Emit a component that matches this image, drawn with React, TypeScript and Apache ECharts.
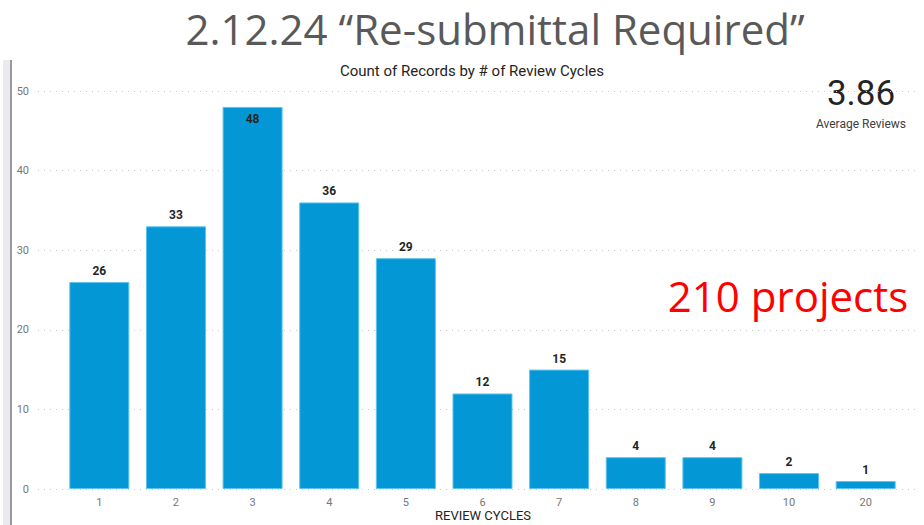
import React, { useEffect, useRef } from "react";
import * as echarts from "echarts";

const categories = ["1", "2", "3", "4", "5", "6", "7", "8", "9", "10", "20"];
const counts = [26, 33, 48, 36, 29, 12, 15, 4, 4, 2, 1];
const yTicks = { min: 0, max: 50, interval: 10 };
const pageTitle = "2.12.24 \u201cRe-submittal Required\u201d";
const chartTitle = "Count of Records by # of Review Cycles";
const xName = "REVIEW CYCLES";
const kpiValue = "3.86";
const kpiLabel = "Average Reviews";
const note = "210 projects";

export default function App() {
  const ref = useRef<HTMLDivElement>(null);
  useEffect(() => {
    if (!ref.current) return;
    const chart = echarts.init(ref.current, null, { renderer: "svg" });
    const top = 91;
    const bottom = 36;
    chart.setOption({
      animation: false,
      backgroundColor: "#ffffff",
      grid: [
        { left: 38, right: 4, top, bottom, containLabel: false, outerBoundsMode: "none" },
        { left: 61, right: 20, top, bottom, containLabel: false, outerBoundsMode: "none" },
      ],
      xAxis: [
        { type: "category", gridIndex: 0, data: categories, show: false },
        {
          type: "category",
          gridIndex: 1,
          data: categories,
          axisLine: { show: false },
          axisTick: { show: false },
          axisLabel: { color: "#777777", fontSize: 11, fontFamily: "Roboto", margin: 8 },
        },
      ],
      yAxis: [
        {
          type: "value",
          gridIndex: 0,
          min: yTicks.min,
          max: yTicks.max,
          interval: yTicks.interval,
          axisLine: { show: false },
          axisTick: { show: false },
          axisLabel: { color: "#777777", fontSize: 11, fontFamily: "Roboto", margin: 9 },
          splitLine: { lineStyle: { color: "#c8c8c8", type: [1, 5], width: 1 } },
        },
        {
          type: "value",
          gridIndex: 1,
          min: yTicks.min,
          max: yTicks.max,
          interval: yTicks.interval,
          show: false,
          splitLine: { show: false },
        },
      ],
      series: [
        {
          type: "bar",
          xAxisIndex: 1,
          yAxisIndex: 1,
          barWidth: 60,
          data: counts.map((v) => ({
            value: v,
            label: v === Math.max(...counts) ? { position: "insideTop", distance: 6 } : undefined,
          })),
          itemStyle: { color: "#0497d6", borderColor: "#5cc2ef", borderWidth: 1 },
          label: {
            show: true,
            position: "top",
            distance: 5,
            color: "#252423",
            fontWeight: "bold",
            fontSize: 12,
            fontFamily: "Roboto",
          },
        },
      ],
      graphic: [
        { type: "rect", shape: { x: 3, y: 60, width: 9, height: 465 }, style: { fill: "#e9ebee" } },
        { type: "rect", shape: { x: 10, y: 60, width: 2, height: 465 }, style: { fill: "#9a9a9a" } },
        {
          type: "text",
          x: 483,
          y: 515,
          style: {
            text: xName,
            fontSize: 13,
            fontFamily: "Roboto",
            fill: "#252423",
            align: "center",
            verticalAlign: "middle",
          },
        },
        {
          type: "text",
          x: 495,
          y: 28,
          style: {
            text: pageTitle,
            fontSize: 42,
            fontFamily: "Open Sans",
            fill: "#595959",
            align: "center",
            verticalAlign: "middle",
          },
        },
        {
          type: "text",
          x: 472,
          y: 71,
          style: {
            text: chartTitle,
            fontSize: 15,
            fontFamily: "Roboto",
            fill: "#252423",
            align: "center",
            verticalAlign: "middle",
          },
        },
        {
          type: "text",
          x: 861,
          y: 93,
          style: {
            text: kpiValue,
            fontSize: 35,
            fontFamily: "Roboto",
            fill: "#252423",
            align: "center",
            verticalAlign: "middle",
          },
        },
        {
          type: "text",
          x: 861,
          y: 124,
          style: {
            text: kpiLabel,
            fontSize: 12,
            fontFamily: "Roboto",
            fill: "#404040",
            align: "center",
            verticalAlign: "middle",
          },
        },
        {
          type: "text",
          x: 788,
          y: 295,
          style: {
            text: note,
            fontSize: 42,
            fontFamily: "Open Sans",
            fill: "#ff0000",
            align: "center",
            verticalAlign: "middle",
          },
        },
      ],
    });
    return () => chart.dispose();
  }, []);
  return (
    <div
      ref={ref}
      style={{ position: "fixed", left: 0, top: 0, width: 924, height: 525 }}
    />
  );
}
